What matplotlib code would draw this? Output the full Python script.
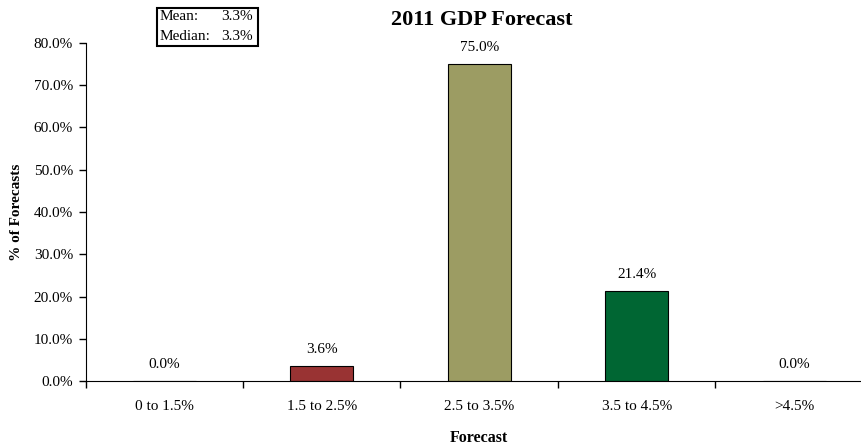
import matplotlib.pyplot as plt
from matplotlib.patches import Rectangle

plt.rcParams['font.family'] = ['Liberation Serif', 'DejaVu Serif']

categories = ['0 to 1.5%', '1.5 to 2.5%', '2.5 to 3.5%', '3.5 to 4.5%', '>4.5%']
shares = [0.0, 3.6, 75.0, 21.4, 0.0]
bar_colors = ['#993333', '#993333', '#9c9c63', '#006633', '#006633']
mean_val = 3.3
median_val = 3.3

fig = plt.figure(figsize=(8.62, 4.46), dpi=100)
ax = fig.add_axes([85.5 / 862, 65 / 446, (873 - 85.5) / 862, 338 / 446])

x = list(range(len(categories)))
ax.bar(x, shares, width=0.4, color=bar_colors, edgecolor='black', linewidth=0.8)

for xi, v in zip(x, shares):
    ax.annotate('%.1f%%' % v, (xi, v), xytext=(0, 7), textcoords='offset points',
                ha='center', va='bottom', fontsize=11)

ax.set_xlim(-0.5, len(categories) - 0.5)
ax.set_ylim(0, 80)
ax.set_yticks(range(0, 81, 10))
ax.set_yticklabels(['%.1f%%' % t for t in range(0, 81, 10)], fontsize=11)

# category names centred, ticks on the boundaries
ax.set_xticks([i - 0.5 for i in range(len(categories) + 1)])
ax.set_xticklabels([])
ax.set_xticks(x, minor=True)
ax.set_xticklabels(categories, minor=True, fontsize=11)
ax.tick_params(axis='x', which='minor', length=0, pad=14)
ax.tick_params(axis='x', which='major', direction='out', length=5, width=1)
ax.tick_params(axis='y', direction='out', length=5, width=1, pad=4)

ax.spines['top'].set_visible(False)
ax.spines['right'].set_visible(False)

ax.set_xlabel('Forecast', fontsize=11.5, fontweight='bold', labelpad=12)
ax.set_ylabel('% of Forecasts', fontsize=11, fontweight='bold', labelpad=8)
fig.text(482 / 862, 1 - 20 / 446, '2011 GDP Forecast', ha='center', va='center',
         fontsize=16, fontweight='bold')

# mean / median box
fig.patches.append(Rectangle((157 / 862, 1 - 46 / 446), 101 / 862, 38 / 446,
                             transform=fig.transFigure, fill=False,
                             edgecolor='black', linewidth=1.5))
fig.text(160 / 862, 1 - 17 / 446, 'Mean:', ha='left', va='center', fontsize=11)
fig.text(253 / 862, 1 - 17 / 446, '%.1f%%' % mean_val, ha='right', va='center', fontsize=11)
fig.text(160 / 862, 1 - 37 / 446, 'Median:', ha='left', va='center', fontsize=11)
fig.text(253 / 862, 1 - 37 / 446, '%.1f%%' % median_val, ha='right', va='center', fontsize=11)

fig.savefig('out.png', dpi=100)
